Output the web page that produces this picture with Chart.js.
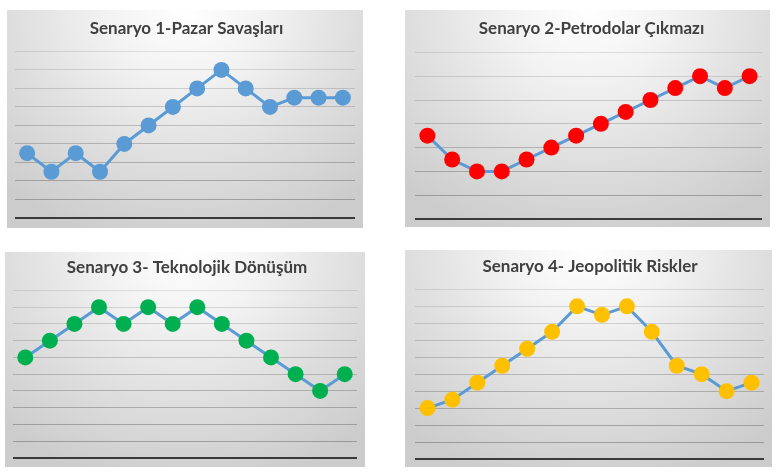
<!DOCTYPE html>
<html>
<head>
<meta charset="utf-8">
<script src="https://cdn.jsdelivr.net/npm/chart.js@4/dist/chart.umd.min.js"></script>
<style>
  html, body { margin: 0; padding: 0; background: #fff; }
  body { width: 780px; height: 472px; position: relative; overflow: hidden; }
  .panel {
    position: absolute;
    background: radial-gradient(ellipse 75% 110% at 50% 0%, #ffffff 0%, #f2f2f2 30%, #dedede 65%, #cccccc 100%);
  }
  .panel canvas { display: block; }
</style>
</head>
<body>
<div class="panel" id="p1" style="left:7px;top:10px;width:356px;height:218px"><canvas id="c1"></canvas></div>
<div class="panel" id="p2" style="left:405px;top:10px;width:365px;height:217px"><canvas id="c2"></canvas></div>
<div class="panel" id="p3" style="left:5px;top:252px;width:360px;height:215px"><canvas id="c3"></canvas></div>
<div class="panel" id="p4" style="left:405px;top:250px;width:367px;height:217px"><canvas id="c4"></canvas></div>
<script>
    "use strict";

    // Data (14 periods each)
    const periods = ["1", "2", "3", "4", "5", "6", "7", "8", "9", "10", "11", "12", "13", "14"];

    const titles = [
        "Senaryo 1-Pazar Savaşları",
        "Senaryo 2-Petrodolar Çıkmazı",
        "Senaryo 3- Teknolojik Dönüşüm",
        "Senaryo 4- Jeopolitik Riskler"
    ];

    const pazarSavaslari   = [3.5, 2.5, 3.5, 2.5, 4, 5, 6, 7, 8, 7, 6, 6.5, 6.5, 6.5];
    const petrodolar       = [3.5, 2.5, 2, 2, 2.5, 3, 3.5, 4, 4.5, 5, 5.5, 6, 5.5, 6];
    const teknolojik       = [6, 7, 8, 9, 8, 9, 8, 9, 8, 7, 6, 5, 4, 5];
    const jeopolitik       = [3, 3.5, 4.5, 5.5, 6.5, 7.5, 9, 8.5, 9, 7.5, 5.5, 5, 4, 4.5];

    const axisMax = [9, 7, 10, 10];

    const markerColors = ["#5b9bd5", "#ff0000", "#00b050", "#ffc000"];
    const lineColor = "#5b9bd5";

    // Layout padding per panel so plot areas land where the picture has them
    const pads = [
        { left: 8,  right: 5, bottom: 10 },
        { left: 10, right: 2, bottom: 4 },
        { left: 7,  right: 3, bottom: 9 },
        { left: 10, right: 7, bottom: 7 }
    ];
    const titlePads = [
        { top: 8, bottom: 13 },
        { top: 8, bottom: 14 },
        { top: 5, bottom: 13 },
        { top: 6, bottom: 13 }
    ];

    function gridColor(ctx, max) {
        const v = ctx.tick ? ctx.tick.value : 0;
        if (v === 0) return "#3a3a3a";
        const a = 0.16 + 0.32 * (1 - v / max);
        return "rgba(90,90,90," + a.toFixed(3) + ")";
    }

    function makeChart(id, idx, values) {
        const canvas = document.getElementById(id);
        const max = axisMax[idx];
        return new Chart(canvas, {
            type: "line",
            data: {
                labels: periods,
                datasets: [{
                    data: values,
                    borderColor: lineColor,
                    borderWidth: 3,
                    backgroundColor: markerColors[idx],
                    pointBackgroundColor: markerColors[idx],
                    pointBorderColor: markerColors[idx],
                    pointBorderWidth: 0,
                    pointRadius: 8,
                    pointHoverRadius: 8,
                    tension: 0,
                    clip: false
                }]
            },
            options: {
                responsive: true,
                maintainAspectRatio: false,
                animation: false,
                events: [],
                layout: { padding: Object.assign({ top: 0 }, pads[idx]) },
                plugins: {
                    legend: { display: false },
                    tooltip: { enabled: false },
                    title: {
                        display: true,
                        text: titles[idx],
                        color: "#404040",
                        font: { family: "Lato", size: 17, weight: "bold" },
                        padding: titlePads[idx]
                    }
                },
                scales: {
                    x: {
                        display: false,
                        offset: true
                    },
                    y: {
                        min: 0,
                        max: max,
                        ticks: { display: false, stepSize: 1 },
                        border: { display: false },
                        grid: {
                            drawTicks: false,
                            color: (ctx) => gridColor(ctx, max),
                            lineWidth: (ctx) => (ctx.tick && ctx.tick.value === 0 ? 2 : 1)
                        }
                    }
                }
            }
        });
    }

    makeChart("c1", 0, pazarSavaslari);
    makeChart("c2", 1, petrodolar);
    makeChart("c3", 2, teknolojik);
    makeChart("c4", 3, jeopolitik);
</script>
</body>
</html>
